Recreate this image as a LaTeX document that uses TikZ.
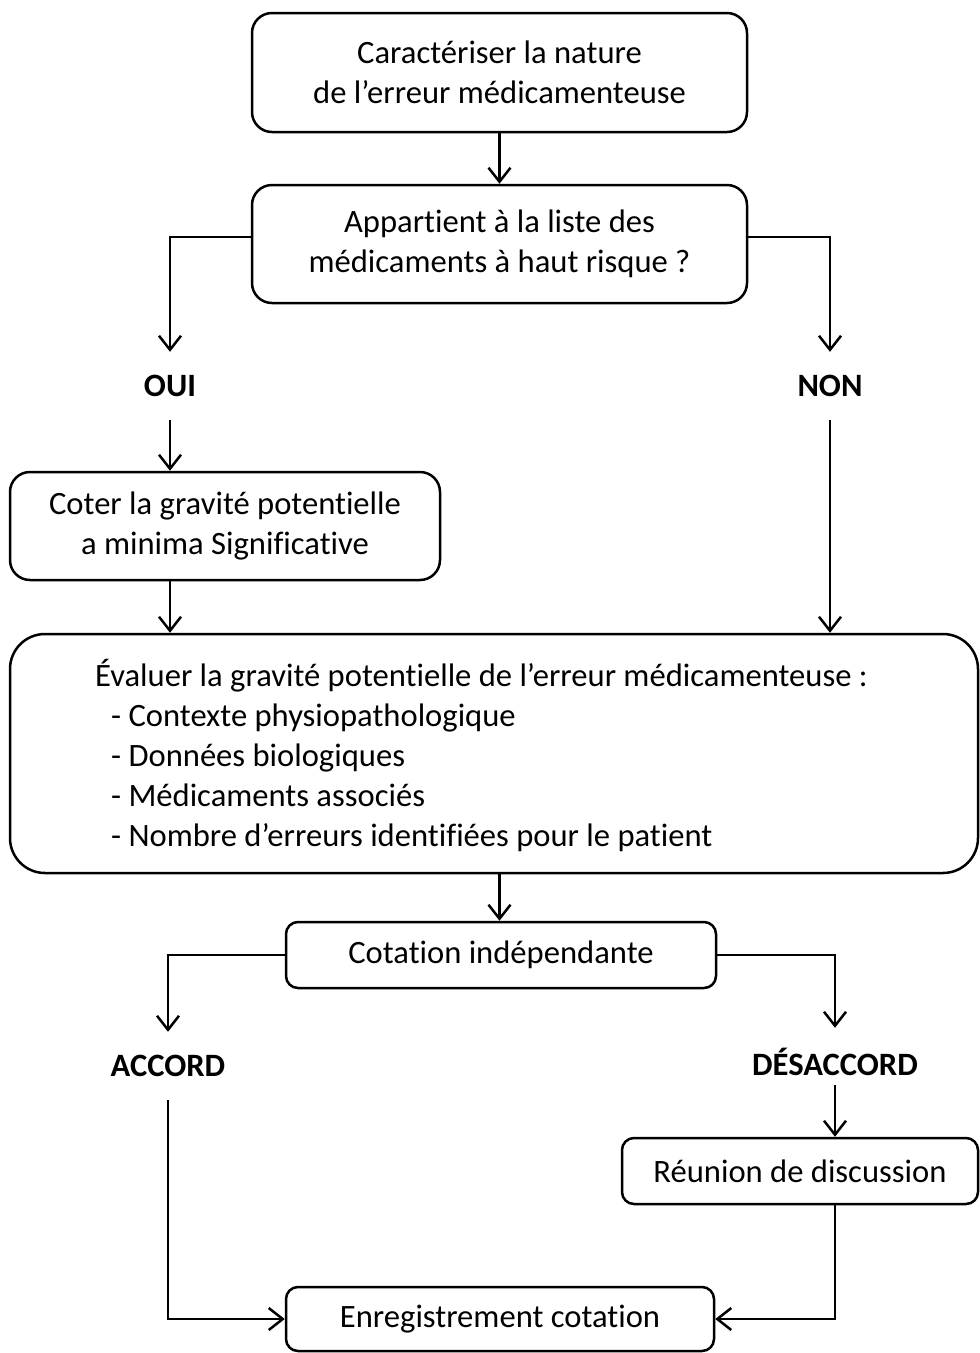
\documentclass[tikz,border=0pt]{standalone}
\usepackage{fontspec}
\setmainfont{Carlito}[Ligatures={NoCommon}]
\usetikzlibrary{arrows.meta}
\newcommand{\fsz}{\fontsize{32.6}{40}\selectfont}
\begin{document}
\begin{tikzpicture}[x=1pt,y=-1pt,
  box/.style={draw, line width=2.5pt, rounded corners=20pt, align=center, font=\fsz, inner sep=0pt},
  lbl/.style={font=\fsz\bfseries, inner sep=0pt, minimum height=68pt},
  arr/.style={line width=2.5pt, -{Straight Barb[length=14pt,width=22pt,line width=2.5pt]}}]
\useasboundingbox (0,0) rectangle (980,1353);
\node[box, minimum width=495pt, minimum height=119pt] (b1) at (499.5,72.5) {Caractériser la nature\\de l’erreur médicamenteuse};
\node[box, minimum width=495pt, minimum height=118pt] (b2) at (499.5,244) {Appartient à la liste des\\médicaments à haut risque ?};
\node[lbl] (oui) at (170,386) {OUI};
\node[lbl] (non) at (830,386) {NON};
\node[box, minimum width=430pt, minimum height=108pt] (b3) at (225,526) {Coter la gravité potentielle\\a minima Significative};
\node[box, rounded corners=35pt, minimum width=968pt, minimum height=239pt] (eval) at (494,753.5) {};
\node[font=\fsz, align=left, inner sep=0pt, anchor=west] (evaltext) at (95,756) {Évaluer la gravité potentielle de l’erreur médicamenteuse :\\
\hspace*{16pt}- Contexte physiopathologique\\
\hspace*{16pt}- Données biologiques\\
\hspace*{16pt}- Médicaments associés\\
\hspace*{16pt}- Nombre d’erreurs identifiées pour le patient};
\node[box, rounded corners=12pt, minimum width=430pt, minimum height=66pt] (cot) at (501,955) {Cotation indépendante};
\node[lbl] (accord) at (168,1066) {ACCORD};
\node[lbl] (desaccord) at (835,1062) {DÉSACCORD};
\node[box, rounded corners=12pt, minimum width=356pt, minimum height=66pt] (reu) at (800,1171) {Réunion de discussion};
\node[box, rounded corners=12pt, minimum width=428pt, minimum height=64pt] (enr) at (500,1319) {Enregistrement cotation};
% connectors
\draw[arr] (b1.south) -- (b2.north);
\draw[arr] ([yshift=7pt]b2.west) -| (oui.north);
\draw[arr] ([yshift=7pt]b2.east) -| (non.north);
\draw[arr] (oui.south) -- (oui.south |- b3.north);
\draw[arr] (oui |- b3.south) -- (oui |- eval.north);
\draw[arr] (non.south) -- (non |- eval.north);
\draw[arr] (b1.south |- eval.south) -- (b1.south |- cot.north);
\draw[arr] (cot.west) -| (accord.north);
\draw[arr] (cot.east) -| (desaccord.north);
\draw[arr] ([yshift=11pt]desaccord.south) -- (desaccord |- reu.north);
\draw[arr] (accord.south) |- (enr.west);
\draw[arr] (desaccord |- reu.south) |- (enr.east);
\end{tikzpicture}
\end{document}
